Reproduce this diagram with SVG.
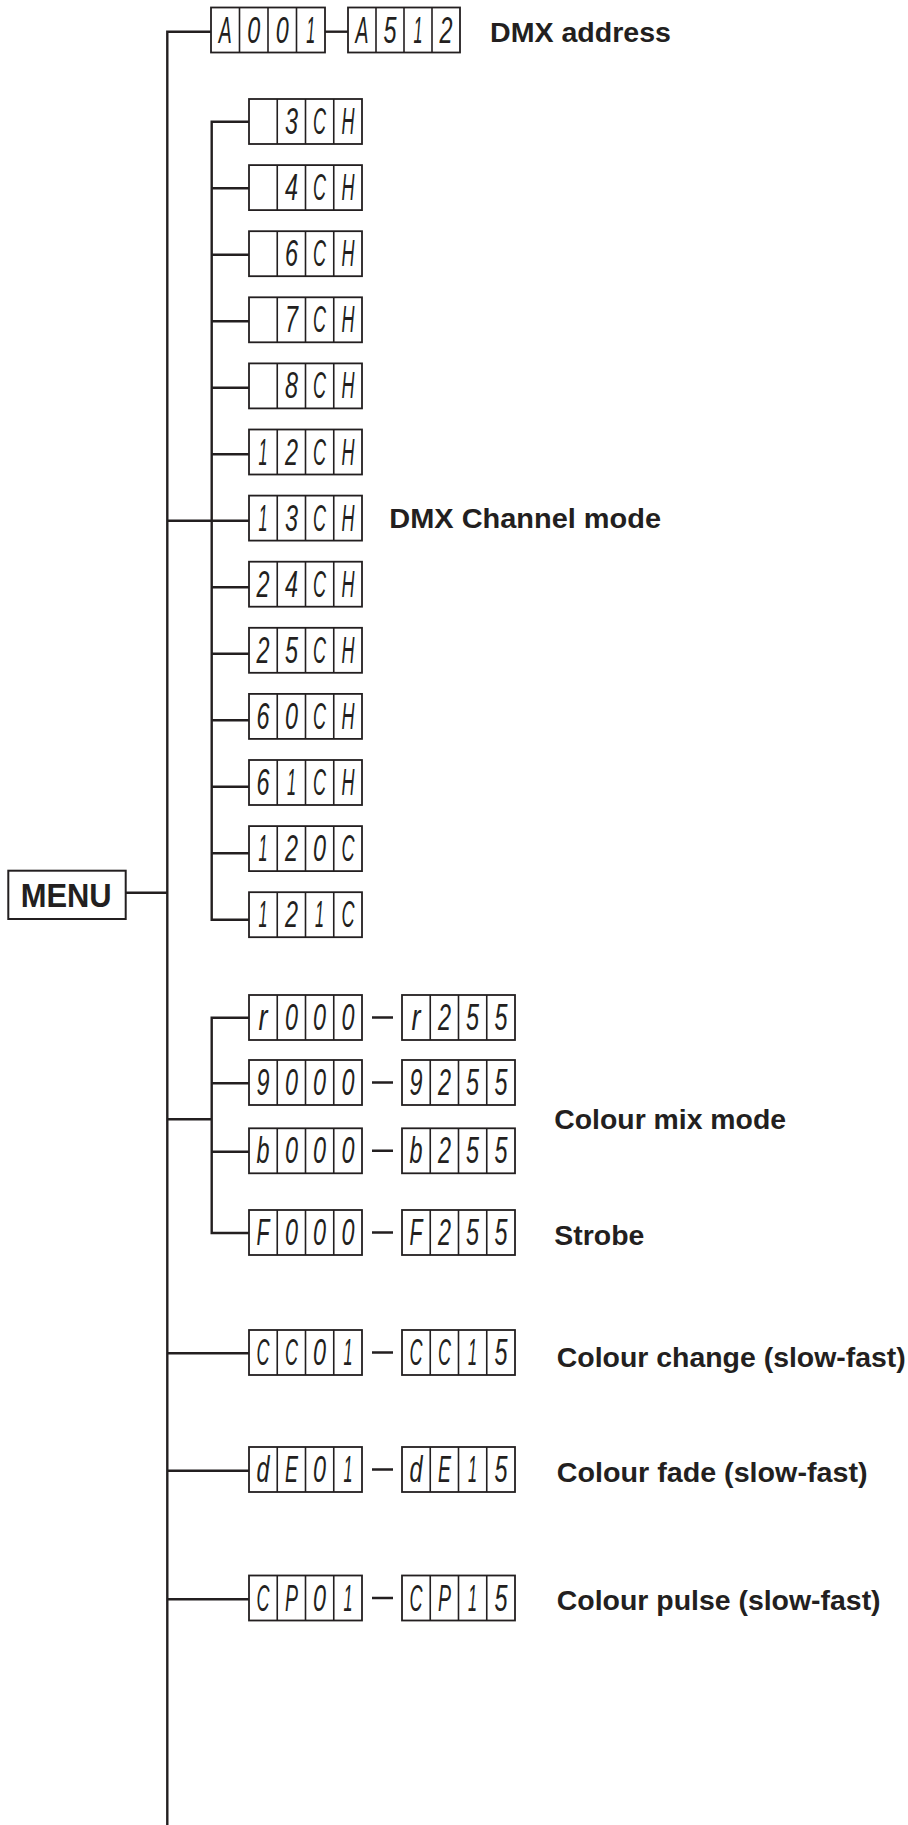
<svg xmlns="http://www.w3.org/2000/svg" width="908" height="1825" viewBox="0 0 908 1825">
<style>
.ln{stroke:#231f20;stroke-width:2.4;fill:none}
.bx{fill:#fff;stroke:#231f20;stroke-width:1.8}
.dv{stroke:#231f20;stroke-width:1.6}
.sg{font-family:"Liberation Sans",Arial,sans-serif;font-size:36px;font-style:italic;fill:#231f20;text-anchor:middle}
.lb{font-family:"Liberation Sans",Arial,sans-serif;font-weight:bold;font-size:28px;fill:#231f20}
</style>
<rect width="908" height="1825" fill="#fff"/>
<g id="connectors">
<path class="ln" d="M211 31.7H167.3V1825"/>
<path class="ln" d="M325 31.7H348"/>
<path class="ln" d="M125.7 892.7H167.3"/>
<path class="ln" d="M167.3 520.7H211.7"/>
<path class="ln" d="M249 121.7H211.7V919.7H249"/>
<path class="ln" d="M211.7 188.2H249M211.7 254.7H249M211.7 321.2H249M211.7 387.7H249M211.7 454.2H249M211.7 520.7H249M211.7 587.2H249M211.7 653.7H249M211.7 720.2H249M211.7 786.7H249M211.7 853.2H249"/>
<path class="ln" d="M167.3 1119.3H211.7"/>
<path class="ln" d="M249 1017.7H211.7V1233H249"/>
<path class="ln" d="M211.7 1083.3H249M211.7 1151.7H249"/>
<path class="ln" d="M167.3 1353.3H249M167.3 1470.7H249M167.3 1599.3H249"/>
<path class="ln" d="M372 1017.5H393M372 1082.5H393M372 1150.8H393M372 1232.5H393M372 1352.5H393M372 1469.5H393M372 1598H393"/>
</g>
<g id="menu">
<rect x="8.3" y="870.7" width="117.4" height="48.3" fill="#fff" stroke="#231f20" stroke-width="2"/>
<text x="20.7" y="906.7" font-family="Liberation Sans,Arial,sans-serif" font-weight="bold" font-size="33" fill="#231f20" textLength="91" lengthAdjust="spacingAndGlyphs">MENU</text>
</g>
<g id="dmx-address">
<rect class="bx" x="211" y="7.5" width="114" height="45"/>
<path class="dv" d="M239.5 7.5V52.5M268 7.5V52.5M296.5 7.5V52.5"/>
<text class="sg" x="225.3" y="42.5" textLength="13" lengthAdjust="spacingAndGlyphs">A</text>
<text class="sg" x="253.8" y="42.5" textLength="13" lengthAdjust="spacingAndGlyphs">0</text>
<text class="sg" x="282.3" y="42.5" textLength="13" lengthAdjust="spacingAndGlyphs">0</text>
<text class="sg" x="310.8" y="42.5" textLength="9" lengthAdjust="spacingAndGlyphs">1</text>
<rect class="bx" x="348" y="7.5" width="112" height="45"/>
<path class="dv" d="M376 7.5V52.5M404 7.5V52.5M432 7.5V52.5"/>
<text class="sg" x="362" y="42.5" textLength="13" lengthAdjust="spacingAndGlyphs">A</text>
<text class="sg" x="390" y="42.5" textLength="13" lengthAdjust="spacingAndGlyphs">5</text>
<text class="sg" x="418" y="42.5" textLength="9" lengthAdjust="spacingAndGlyphs">1</text>
<text class="sg" x="446" y="42.5" textLength="13" lengthAdjust="spacingAndGlyphs">2</text>
<text class="lb" x="490" y="41.7" textLength="181" lengthAdjust="spacingAndGlyphs">DMX address</text>
</g>
<g id="channel-modes">
<g id="ch3"><rect class="bx" x="249" y="99" width="113" height="45"/><path class="dv" d="M277.25 99v45M305.5 99v45M333.75 99v45"/><text class="sg" x="291.4" y="134" textLength="13" lengthAdjust="spacingAndGlyphs">3</text><text class="sg" x="319.6" y="134" textLength="13" lengthAdjust="spacingAndGlyphs">C</text><text class="sg" x="347.9" y="134" textLength="13" lengthAdjust="spacingAndGlyphs">H</text></g>
<g id="ch4"><rect class="bx" x="249" y="165.1" width="113" height="45"/><path class="dv" d="M277.25 165.1v45M305.5 165.1v45M333.75 165.1v45"/><text class="sg" x="291.4" y="200.1" textLength="13" lengthAdjust="spacingAndGlyphs">4</text><text class="sg" x="319.6" y="200.1" textLength="13" lengthAdjust="spacingAndGlyphs">C</text><text class="sg" x="347.9" y="200.1" textLength="13" lengthAdjust="spacingAndGlyphs">H</text></g>
<g id="ch6"><rect class="bx" x="249" y="231.2" width="113" height="45"/><path class="dv" d="M277.25 231.2v45M305.5 231.2v45M333.75 231.2v45"/><text class="sg" x="291.4" y="266.2" textLength="13" lengthAdjust="spacingAndGlyphs">6</text><text class="sg" x="319.6" y="266.2" textLength="13" lengthAdjust="spacingAndGlyphs">C</text><text class="sg" x="347.9" y="266.2" textLength="13" lengthAdjust="spacingAndGlyphs">H</text></g>
<g id="ch7"><rect class="bx" x="249" y="297.3" width="113" height="45"/><path class="dv" d="M277.25 297.3v45M305.5 297.3v45M333.75 297.3v45"/><text class="sg" x="291.4" y="332.3" textLength="13" lengthAdjust="spacingAndGlyphs">7</text><text class="sg" x="319.6" y="332.3" textLength="13" lengthAdjust="spacingAndGlyphs">C</text><text class="sg" x="347.9" y="332.3" textLength="13" lengthAdjust="spacingAndGlyphs">H</text></g>
<g id="ch8"><rect class="bx" x="249" y="363.4" width="113" height="45"/><path class="dv" d="M277.25 363.4v45M305.5 363.4v45M333.75 363.4v45"/><text class="sg" x="291.4" y="398.4" textLength="13" lengthAdjust="spacingAndGlyphs">8</text><text class="sg" x="319.6" y="398.4" textLength="13" lengthAdjust="spacingAndGlyphs">C</text><text class="sg" x="347.9" y="398.4" textLength="13" lengthAdjust="spacingAndGlyphs">H</text></g>
<g id="ch12"><rect class="bx" x="249" y="429.5" width="113" height="45"/><path class="dv" d="M277.25 429.5v45M305.5 429.5v45M333.75 429.5v45"/><text class="sg" x="263.1" y="464.5" textLength="9" lengthAdjust="spacingAndGlyphs">1</text><text class="sg" x="291.4" y="464.5" textLength="13" lengthAdjust="spacingAndGlyphs">2</text><text class="sg" x="319.6" y="464.5" textLength="13" lengthAdjust="spacingAndGlyphs">C</text><text class="sg" x="347.9" y="464.5" textLength="13" lengthAdjust="spacingAndGlyphs">H</text></g>
<g id="ch13"><rect class="bx" x="249" y="495.6" width="113" height="45"/><path class="dv" d="M277.25 495.6v45M305.5 495.6v45M333.75 495.6v45"/><text class="sg" x="263.1" y="530.6" textLength="9" lengthAdjust="spacingAndGlyphs">1</text><text class="sg" x="291.4" y="530.6" textLength="13" lengthAdjust="spacingAndGlyphs">3</text><text class="sg" x="319.6" y="530.6" textLength="13" lengthAdjust="spacingAndGlyphs">C</text><text class="sg" x="347.9" y="530.6" textLength="13" lengthAdjust="spacingAndGlyphs">H</text></g>
<g id="ch24"><rect class="bx" x="249" y="561.7" width="113" height="45"/><path class="dv" d="M277.25 561.7v45M305.5 561.7v45M333.75 561.7v45"/><text class="sg" x="263.1" y="596.7" textLength="13" lengthAdjust="spacingAndGlyphs">2</text><text class="sg" x="291.4" y="596.7" textLength="13" lengthAdjust="spacingAndGlyphs">4</text><text class="sg" x="319.6" y="596.7" textLength="13" lengthAdjust="spacingAndGlyphs">C</text><text class="sg" x="347.9" y="596.7" textLength="13" lengthAdjust="spacingAndGlyphs">H</text></g>
<g id="ch25"><rect class="bx" x="249" y="627.8" width="113" height="45"/><path class="dv" d="M277.25 627.8v45M305.5 627.8v45M333.75 627.8v45"/><text class="sg" x="263.1" y="662.8" textLength="13" lengthAdjust="spacingAndGlyphs">2</text><text class="sg" x="291.4" y="662.8" textLength="13" lengthAdjust="spacingAndGlyphs">5</text><text class="sg" x="319.6" y="662.8" textLength="13" lengthAdjust="spacingAndGlyphs">C</text><text class="sg" x="347.9" y="662.8" textLength="13" lengthAdjust="spacingAndGlyphs">H</text></g>
<g id="ch60"><rect class="bx" x="249" y="693.9" width="113" height="45"/><path class="dv" d="M277.25 693.9v45M305.5 693.9v45M333.75 693.9v45"/><text class="sg" x="263.1" y="728.9" textLength="13" lengthAdjust="spacingAndGlyphs">6</text><text class="sg" x="291.4" y="728.9" textLength="13" lengthAdjust="spacingAndGlyphs">0</text><text class="sg" x="319.6" y="728.9" textLength="13" lengthAdjust="spacingAndGlyphs">C</text><text class="sg" x="347.9" y="728.9" textLength="13" lengthAdjust="spacingAndGlyphs">H</text></g>
<g id="ch61"><rect class="bx" x="249" y="760" width="113" height="45"/><path class="dv" d="M277.25 760v45M305.5 760v45M333.75 760v45"/><text class="sg" x="263.1" y="795" textLength="13" lengthAdjust="spacingAndGlyphs">6</text><text class="sg" x="291.4" y="795" textLength="9" lengthAdjust="spacingAndGlyphs">1</text><text class="sg" x="319.6" y="795" textLength="13" lengthAdjust="spacingAndGlyphs">C</text><text class="sg" x="347.9" y="795" textLength="13" lengthAdjust="spacingAndGlyphs">H</text></g>
<g id="ch120"><rect class="bx" x="249" y="826.1" width="113" height="45"/><path class="dv" d="M277.25 826.1v45M305.5 826.1v45M333.75 826.1v45"/><text class="sg" x="263.1" y="861.1" textLength="9" lengthAdjust="spacingAndGlyphs">1</text><text class="sg" x="291.4" y="861.1" textLength="13" lengthAdjust="spacingAndGlyphs">2</text><text class="sg" x="319.6" y="861.1" textLength="13" lengthAdjust="spacingAndGlyphs">0</text><text class="sg" x="347.9" y="861.1" textLength="13" lengthAdjust="spacingAndGlyphs">C</text></g>
<g id="ch121"><rect class="bx" x="249" y="892.2" width="113" height="45"/><path class="dv" d="M277.25 892.2v45M305.5 892.2v45M333.75 892.2v45"/><text class="sg" x="263.1" y="927.2" textLength="9" lengthAdjust="spacingAndGlyphs">1</text><text class="sg" x="291.4" y="927.2" textLength="13" lengthAdjust="spacingAndGlyphs">2</text><text class="sg" x="319.6" y="927.2" textLength="9" lengthAdjust="spacingAndGlyphs">1</text><text class="sg" x="347.9" y="927.2" textLength="13" lengthAdjust="spacingAndGlyphs">C</text></g>
<text class="lb" x="389.3" y="527.7" textLength="271.7" lengthAdjust="spacingAndGlyphs">DMX Channel mode</text>
</g>
<g id="colour-mix">
<g id="red"><rect class="bx" x="249" y="995" width="113" height="45"/><path class="dv" d="M277.25 995v45M305.5 995v45M333.75 995v45"/><text class="sg" x="263.1" y="1030" textLength="9" lengthAdjust="spacingAndGlyphs">r</text><text class="sg" x="291.4" y="1030" textLength="13" lengthAdjust="spacingAndGlyphs">0</text><text class="sg" x="319.6" y="1030" textLength="13" lengthAdjust="spacingAndGlyphs">0</text><text class="sg" x="347.9" y="1030" textLength="13" lengthAdjust="spacingAndGlyphs">0</text>
<rect class="bx" x="402" y="995" width="113" height="45"/><path class="dv" d="M430.25 995v45M458.5 995v45M486.75 995v45"/><text class="sg" x="416.1" y="1030" textLength="9" lengthAdjust="spacingAndGlyphs">r</text><text class="sg" x="444.4" y="1030" textLength="13" lengthAdjust="spacingAndGlyphs">2</text><text class="sg" x="472.6" y="1030" textLength="13" lengthAdjust="spacingAndGlyphs">5</text><text class="sg" x="500.9" y="1030" textLength="13" lengthAdjust="spacingAndGlyphs">5</text></g>
<g id="green"><rect class="bx" x="249" y="1060" width="113" height="45"/><path class="dv" d="M277.25 1060v45M305.5 1060v45M333.75 1060v45"/><text class="sg" x="263.1" y="1095" textLength="13" lengthAdjust="spacingAndGlyphs">9</text><text class="sg" x="291.4" y="1095" textLength="13" lengthAdjust="spacingAndGlyphs">0</text><text class="sg" x="319.6" y="1095" textLength="13" lengthAdjust="spacingAndGlyphs">0</text><text class="sg" x="347.9" y="1095" textLength="13" lengthAdjust="spacingAndGlyphs">0</text>
<rect class="bx" x="402" y="1060" width="113" height="45"/><path class="dv" d="M430.25 1060v45M458.5 1060v45M486.75 1060v45"/><text class="sg" x="416.1" y="1095" textLength="13" lengthAdjust="spacingAndGlyphs">9</text><text class="sg" x="444.4" y="1095" textLength="13" lengthAdjust="spacingAndGlyphs">2</text><text class="sg" x="472.6" y="1095" textLength="13" lengthAdjust="spacingAndGlyphs">5</text><text class="sg" x="500.9" y="1095" textLength="13" lengthAdjust="spacingAndGlyphs">5</text></g>
<g id="blue"><rect class="bx" x="249" y="1128.3" width="113" height="45"/><path class="dv" d="M277.25 1128.3v45M305.5 1128.3v45M333.75 1128.3v45"/><text class="sg" x="263.1" y="1163.3" textLength="13" lengthAdjust="spacingAndGlyphs">b</text><text class="sg" x="291.4" y="1163.3" textLength="13" lengthAdjust="spacingAndGlyphs">0</text><text class="sg" x="319.6" y="1163.3" textLength="13" lengthAdjust="spacingAndGlyphs">0</text><text class="sg" x="347.9" y="1163.3" textLength="13" lengthAdjust="spacingAndGlyphs">0</text>
<rect class="bx" x="402" y="1128.3" width="113" height="45"/><path class="dv" d="M430.25 1128.3v45M458.5 1128.3v45M486.75 1128.3v45"/><text class="sg" x="416.1" y="1163.3" textLength="13" lengthAdjust="spacingAndGlyphs">b</text><text class="sg" x="444.4" y="1163.3" textLength="13" lengthAdjust="spacingAndGlyphs">2</text><text class="sg" x="472.6" y="1163.3" textLength="13" lengthAdjust="spacingAndGlyphs">5</text><text class="sg" x="500.9" y="1163.3" textLength="13" lengthAdjust="spacingAndGlyphs">5</text></g>
<g id="strobe"><rect class="bx" x="249" y="1210" width="113" height="45"/><path class="dv" d="M277.25 1210v45M305.5 1210v45M333.75 1210v45"/><text class="sg" x="263.1" y="1245" textLength="13" lengthAdjust="spacingAndGlyphs">F</text><text class="sg" x="291.4" y="1245" textLength="13" lengthAdjust="spacingAndGlyphs">0</text><text class="sg" x="319.6" y="1245" textLength="13" lengthAdjust="spacingAndGlyphs">0</text><text class="sg" x="347.9" y="1245" textLength="13" lengthAdjust="spacingAndGlyphs">0</text>
<rect class="bx" x="402" y="1210" width="113" height="45"/><path class="dv" d="M430.25 1210v45M458.5 1210v45M486.75 1210v45"/><text class="sg" x="416.1" y="1245" textLength="13" lengthAdjust="spacingAndGlyphs">F</text><text class="sg" x="444.4" y="1245" textLength="13" lengthAdjust="spacingAndGlyphs">2</text><text class="sg" x="472.6" y="1245" textLength="13" lengthAdjust="spacingAndGlyphs">5</text><text class="sg" x="500.9" y="1245" textLength="13" lengthAdjust="spacingAndGlyphs">5</text></g>
<text class="lb" x="554.3" y="1129.3" textLength="231.7" lengthAdjust="spacingAndGlyphs">Colour mix mode</text>
<text class="lb" x="554.3" y="1245" textLength="90" lengthAdjust="spacingAndGlyphs">Strobe</text>
</g>
<g id="colour-change"><rect class="bx" x="249" y="1330" width="113" height="45"/><path class="dv" d="M277.25 1330v45M305.5 1330v45M333.75 1330v45"/><text class="sg" x="263.1" y="1365" textLength="13" lengthAdjust="spacingAndGlyphs">C</text><text class="sg" x="291.4" y="1365" textLength="13" lengthAdjust="spacingAndGlyphs">C</text><text class="sg" x="319.6" y="1365" textLength="13" lengthAdjust="spacingAndGlyphs">0</text><text class="sg" x="347.9" y="1365" textLength="9" lengthAdjust="spacingAndGlyphs">1</text>
<rect class="bx" x="402" y="1330" width="113" height="45"/><path class="dv" d="M430.25 1330v45M458.5 1330v45M486.75 1330v45"/><text class="sg" x="416.1" y="1365" textLength="13" lengthAdjust="spacingAndGlyphs">C</text><text class="sg" x="444.4" y="1365" textLength="13" lengthAdjust="spacingAndGlyphs">C</text><text class="sg" x="472.6" y="1365" textLength="9" lengthAdjust="spacingAndGlyphs">1</text><text class="sg" x="500.9" y="1365" textLength="13" lengthAdjust="spacingAndGlyphs">5</text>
<text class="lb" x="556.8" y="1366.7" textLength="349" lengthAdjust="spacingAndGlyphs">Colour change (slow-fast)</text></g>
<g id="colour-fade"><rect class="bx" x="249" y="1447" width="113" height="45"/><path class="dv" d="M277.25 1447v45M305.5 1447v45M333.75 1447v45"/><text class="sg" x="263.1" y="1482" textLength="13" lengthAdjust="spacingAndGlyphs">d</text><text class="sg" x="291.4" y="1482" textLength="13" lengthAdjust="spacingAndGlyphs">E</text><text class="sg" x="319.6" y="1482" textLength="13" lengthAdjust="spacingAndGlyphs">0</text><text class="sg" x="347.9" y="1482" textLength="9" lengthAdjust="spacingAndGlyphs">1</text>
<rect class="bx" x="402" y="1447" width="113" height="45"/><path class="dv" d="M430.25 1447v45M458.5 1447v45M486.75 1447v45"/><text class="sg" x="416.1" y="1482" textLength="13" lengthAdjust="spacingAndGlyphs">d</text><text class="sg" x="444.4" y="1482" textLength="13" lengthAdjust="spacingAndGlyphs">E</text><text class="sg" x="472.6" y="1482" textLength="9" lengthAdjust="spacingAndGlyphs">1</text><text class="sg" x="500.9" y="1482" textLength="13" lengthAdjust="spacingAndGlyphs">5</text>
<text class="lb" x="556.8" y="1482" textLength="310.7" lengthAdjust="spacingAndGlyphs">Colour fade (slow-fast)</text></g>
<g id="colour-pulse"><rect class="bx" x="249" y="1575.5" width="113" height="45"/><path class="dv" d="M277.25 1575.5v45M305.5 1575.5v45M333.75 1575.5v45"/><text class="sg" x="263.1" y="1610.5" textLength="13" lengthAdjust="spacingAndGlyphs">C</text><text class="sg" x="291.4" y="1610.5" textLength="13" lengthAdjust="spacingAndGlyphs">P</text><text class="sg" x="319.6" y="1610.5" textLength="13" lengthAdjust="spacingAndGlyphs">0</text><text class="sg" x="347.9" y="1610.5" textLength="9" lengthAdjust="spacingAndGlyphs">1</text>
<rect class="bx" x="402" y="1575.5" width="113" height="45"/><path class="dv" d="M430.25 1575.5v45M458.5 1575.5v45M486.75 1575.5v45"/><text class="sg" x="416.1" y="1610.5" textLength="13" lengthAdjust="spacingAndGlyphs">C</text><text class="sg" x="444.4" y="1610.5" textLength="13" lengthAdjust="spacingAndGlyphs">P</text><text class="sg" x="472.6" y="1610.5" textLength="9" lengthAdjust="spacingAndGlyphs">1</text><text class="sg" x="500.9" y="1610.5" textLength="13" lengthAdjust="spacingAndGlyphs">5</text>
<text class="lb" x="556.8" y="1610" textLength="323.8" lengthAdjust="spacingAndGlyphs">Colour pulse (slow-fast)</text></g>
</svg>
